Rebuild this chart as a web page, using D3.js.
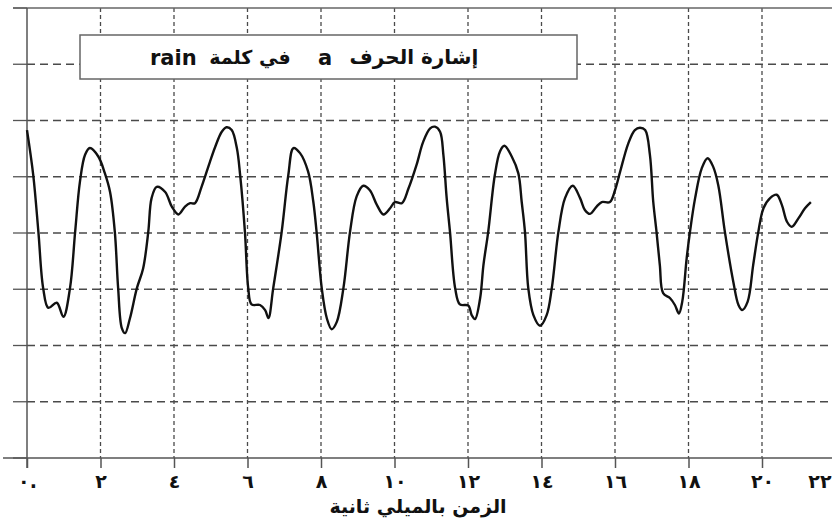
<!DOCTYPE html>
<html><head><meta charset="utf-8">
<script src="https://cdn.jsdelivr.net/npm/d3@7"></script>
<style>
html,body{margin:0;padding:0;background:#fff;}
svg{display:block;}
text{font-family:"DejaVu Sans","Liberation Sans",sans-serif;}
</style></head>
<body>
<svg id="chart" width="832" height="520"></svg>
<script>
// ---- data ----
const timeMs = [0.0,0.17,0.31,0.44,0.58,0.81,0.99,1.17,1.31,1.44,1.58,1.71,1.94,2.12,2.26,2.39,2.48,2.58,2.67,2.80,2.99,3.16,3.30,3.39,3.53,3.76,3.94,4.12,4.30,4.44,4.57,4.75,4.98,
5.12,5.30,5.43,5.57,5.71,5.80,5.93,6.02,6.11,6.34,6.48,6.57,6.70,6.93,7.11,7.25,7.43,7.65,7.79,7.88,8.02,8.16,8.29,8.43,8.61,8.79,8.97,9.15,9.33,9.52,9.70,9.88,10.01,10.20,10.38,
10.60,10.78,10.97,11.10,11.24,11.33,11.42,11.51,11.65,11.78,12.01,12.10,12.19,12.33,12.42,12.55,12.73,12.87,12.99,13.19,13.37,13.46,13.55,13.64,13.78,13.96,14.14,14.28,14.46,14.64,14.85,15.05,15.18,15.32,15.50,15.64,15.86,
16.00,16.14,16.36,16.54,16.68,16.82,16.95,17.04,17.13,17.22,17.31,17.50,17.63,17.74,17.83,17.95,18.04,18.18,18.36,18.52,18.67,18.81,18.99,19.22,19.36,19.46,19.61,19.76,19.90,20.04,20.22,20.40,20.54,20.68,20.81,20.99,21.17,21.33];
const amplitude = [1.83,1.03,0.02,-0.98,-1.33,-1.24,-1.49,-0.98,0.02,0.91,1.39,1.51,1.36,1.06,0.73,0.02,-0.98,-1.69,-1.78,-1.52,-0.98,-0.63,0.02,0.62,0.82,0.73,0.47,0.33,0.47,0.53,0.53,0.82,1.27,
1.53,1.80,1.88,1.83,1.51,1.03,0.02,-0.98,-1.27,-1.28,-1.37,-1.51,-0.98,0.02,1.03,1.51,1.42,1.09,0.56,0.02,-0.98,-1.52,-1.71,-1.58,-0.98,0.02,0.65,0.84,0.76,0.50,0.33,0.44,0.55,0.53,0.79,
1.21,1.62,1.86,1.89,1.80,1.39,0.62,0.02,-0.98,-1.27,-1.29,-1.46,-1.53,-1.16,-0.57,0.02,1.03,1.45,1.55,1.36,1.06,0.56,0.02,-0.98,-1.46,-1.65,-1.46,-0.98,0.02,0.62,0.84,0.62,0.41,0.34,0.47,0.55,0.55,
0.76,1.09,1.59,1.83,1.87,1.83,1.39,0.56,0.02,-0.57,-1.07,-1.16,-1.28,-1.43,-1.22,-0.45,0.02,0.62,1.15,1.33,1.18,0.85,0.02,-0.87,-1.28,-1.37,-1.22,-0.57,0.02,0.44,0.62,0.68,0.50,0.20,0.11,0.26,0.44,0.55];
const xTicks = [0,2,4,6,8,10,12,14,16,18,20,22];
const xTickLabels = ["٠.","٢","٤","٦","٨","١٠","١٢","١٤","١٦","١٨","٢٠","٢٢"];
const yTicks = [-4,-3,-2,-1,0,1,2,3,4];
const xTitle = "الزمن بالميلي ثانية";
const legendParts = ["rain","في كلمة","a","إشارة الحرف"];

// ---- layout ----
const svg = d3.select("#chart");
const x = d3.scaleLinear().domain([0,22]).range([27, 835.5]);
const y = d3.scaleLinear().domain([-4,4]).range([458, 8]);
const gridCol = "#4a4a4a";

// horizontal grid (dashed)
svg.append("g").selectAll("line").data(yTicks.filter(v=>v>-4 && v<4)).join("line")
  .attr("x1", x(0)).attr("x2", 832).attr("y1", d=>y(d)).attr("y2", d=>y(d))
  .attr("stroke", gridCol).attr("stroke-width", 1.3).attr("stroke-dasharray", "8,5");
// vertical grid (finer dashes)
svg.append("g").selectAll("line").data(xTicks.filter(v=>v>0 && v<22)).join("line")
  .attr("x1", d=>x(d)).attr("x2", d=>x(d)).attr("y1", y(4)).attr("y2", y(-4))
  .attr("stroke", gridCol).attr("stroke-width", 1.3).attr("stroke-dasharray", "4,3");

// left y ticks (outside)
svg.append("g").selectAll("line").data(yTicks).join("line")
  .attr("x1", 13).attr("x2", x(0)).attr("y1", d=>y(d)).attr("y2", d=>y(d))
  .attr("stroke", "#555").attr("stroke-width", 1.3);
// top border
svg.append("line").attr("x1", 13).attr("x2", 832).attr("y1", y(4)).attr("y2", y(4))
  .attr("stroke", "#666").attr("stroke-width", 1.5);
// y axis line
svg.append("line").attr("x1", x(0)).attr("x2", x(0)).attr("y1", y(4)).attr("y2", y(-4)+10)
  .attr("stroke", "#555").attr("stroke-width", 1.5);
// bottom axis
const xAxis = d3.axisBottom(x).tickValues(xTicks).tickFormat((d,i)=>xTickLabels[i]).tickSize(10).tickPadding(7);
const gx = svg.append("g").attr("transform", `translate(0,${y(-4)})`).call(xAxis);
gx.select(".domain").remove();
gx.selectAll(".tick line").attr("stroke", "#555").attr("stroke-width", 1.5);
gx.selectAll(".tick text").attr("font-size", 19).attr("font-weight", "bold").attr("fill", "#111")
  .attr("font-family", "DejaVu Sans, sans-serif");
gx.selectAll(".tick").filter(d=>d===22).select("text")
  .attr("text-anchor", "end").attr("x", 831 - x(22));
svg.append("line").attr("x1", 3).attr("x2", 832).attr("y1", y(-4)).attr("y2", y(-4))
  .attr("stroke", "#555").attr("stroke-width", 1.5);

// x title
svg.append("text").attr("x", 418).attr("y", 513).attr("text-anchor", "middle")
  .attr("font-size", 19).attr("font-weight", "bold").attr("fill", "#111").attr("direction", "rtl").text(xTitle);

// signal line
const pts = timeMs.map((t,i)=>[t, amplitude[i]]);
const line = d3.line().x(d=>x(d[0])).y(d=>y(d[1])).curve(d3.curveCatmullRom.alpha(0.5));
svg.append("path").attr("d", line(pts)).attr("fill", "none").attr("stroke", "#111")
  .attr("stroke-width", 2.4).attr("stroke-linejoin", "round");

// legend box
svg.append("rect").attr("x", 80).attr("y", 35).attr("width", 497).attr("height", 44)
  .attr("fill", "#fff").attr("stroke", "#666").attr("stroke-width", 1.5);
const lg = svg.append("g").attr("fill", "#111");
lg.append("text").attr("x", 150).attr("y", 65).attr("font-size", 21).attr("font-weight", "bold")
  .attr("font-family", "Liberation Sans, Arial, sans-serif").text(legendParts[0]);
lg.append("text").attr("x", 250).attr("y", 64).attr("font-size", 19).attr("font-weight", "bold")
  .attr("text-anchor", "middle").attr("direction", "rtl").text(legendParts[1]);
lg.append("text").attr("x", 325).attr("y", 65).attr("font-size", 21).attr("text-anchor", "middle").attr("font-weight", "bold")
  .attr("font-family", "Liberation Sans, Arial, sans-serif").text(legendParts[2]);
lg.append("text").attr("x", 414).attr("y", 64).attr("font-size", 20).attr("font-weight", "bold")
  .attr("text-anchor", "middle").attr("direction", "rtl").text(legendParts[3]);
</script>
</body></html>
